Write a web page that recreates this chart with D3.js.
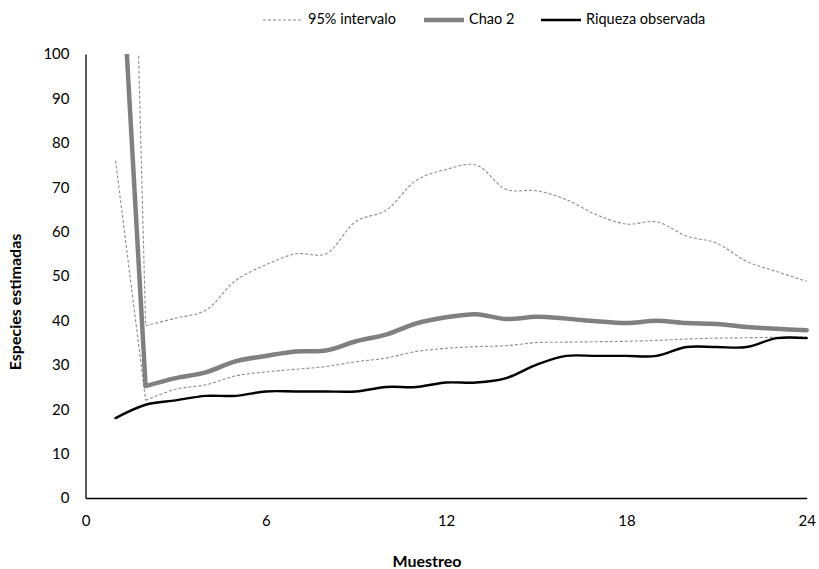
<!DOCTYPE html>
<html>
<head>
<meta charset="utf-8">
<script src="https://cdn.jsdelivr.net/npm/d3@7"></script>
<style>
  html, body { margin: 0; padding: 0; background: #fff; }
  svg { display: block; }
  text { font-family: Lato, "Open Sans", sans-serif; fill: #000; }
</style>
</head>
<body>
<svg id="chart" width="819" height="569"></svg>
<script>
// Sampling units (muestreos)
const samples = d3.range(1, 25);
// Observed species richness
const observed = [18, 21, 22, 23, 23, 24, 24, 24, 24, 25, 25, 26, 26, 27, 30, 32, 32, 32, 32, 34, 34, 34, 36, 36];
// Chao 2 estimator
const chao2 = [145, 25.2, 27, 28.3, 30.8, 32, 33, 33.2, 35.3, 36.8, 39.3, 40.7, 41.4, 40.3, 40.8, 40.4, 39.8, 39.4, 39.9, 39.4, 39.2, 38.5, 38.1, 37.8];
// 95% confidence interval bounds
const ciUpper = [300, 38.8, 40.5, 42.3, 49, 52.5, 55, 55, 62.3, 64.8, 71.5, 74, 75, 69.5, 69.2, 67.2, 63.8, 61.7, 62.2, 59, 57.4, 53.3, 51, 48.8];
const ciLower = [76, 22, 24.5, 25.5, 27.5, 28.4, 29, 29.6, 30.7, 31.5, 33, 33.7, 34.1, 34.3, 35, 35.1, 35.2, 35.3, 35.5, 35.8, 36, 36.1, 36.2, 36.3];
// Axis ticks
const xTicks = [0, 6, 12, 18, 24];
const yTicks = d3.range(0, 101, 10);

const svg = d3.select("#chart");
const plot = { left: 85.5, top: 54, right: 806.7, bottom: 498 };

const x = d3.scaleLinear().domain([0, 24]).range([plot.left, plot.right]);
const y = d3.scaleLinear().domain([0, 100]).range([plot.bottom, plot.top]);

svg.append("defs").append("clipPath").attr("id", "plot-clip")
  .append("rect")
  .attr("x", plot.left).attr("y", plot.top)
  .attr("width", plot.right - plot.left + 4)
  .attr("height", plot.bottom - plot.top);

// The steep first step (sample 1 to 2) of the estimates is drawn straight; the rest is smoothed.
const pts = values => values.map((v, i) => [x(samples[i]), y(v)]);
const straight = d3.line().curve(d3.curveLinear);
const smooth = d3.line().curve(d3.curveCatmullRom.alpha(0.5));
const steepPath = values => {
  const p = pts(values);
  return straight(p.slice(0, 2)) + smooth(p.slice(1));
};

const lines = svg.append("g").attr("clip-path", "url(#plot-clip)");

const ciStyle = { stroke: "#8c8c8c", width: 1.1, dash: "3,2" };
[ciUpper, ciLower].forEach(v => {
  lines.append("path")
    .attr("d", steepPath(v))
    .attr("fill", "none")
    .attr("stroke", ciStyle.stroke)
    .attr("stroke-width", ciStyle.width)
    .attr("stroke-dasharray", ciStyle.dash);
});

lines.append("path")
  .attr("d", steepPath(chao2))
  .attr("fill", "none")
  .attr("stroke", "#808080")
  .attr("stroke-width", 4.5)
  .attr("stroke-linecap", "round")
  .attr("stroke-linejoin", "round");

lines.append("path")
  .attr("d", smooth(pts(observed)))
  .attr("fill", "none")
  .attr("stroke", "#000")
  .attr("stroke-width", 2.4)
  .attr("stroke-linecap", "round")
  .attr("stroke-linejoin", "round");

// Axes: plain lines with labels, no tick marks
const yAxis = svg.append("g")
  .attr("transform", `translate(${plot.left},0)`)
  .call(d3.axisLeft(y).tickValues(yTicks).tickSize(0).tickPadding(16).tickFormat(d3.format("d")));
const xAxis = svg.append("g")
  .attr("transform", `translate(0,${plot.bottom})`)
  .call(d3.axisBottom(x).tickValues(xTicks).tickSize(0).tickPadding(17).tickFormat(d3.format("d")));

[yAxis, xAxis].forEach(g => {
  g.select(".domain").attr("stroke", "#000").attr("stroke-width", 1.3);
  g.selectAll("text").style("font-family", "Lato, sans-serif").style("font-size", "15px").attr("fill", "#000");
});

// Axis titles
svg.append("text")
  .attr("x", 427)
  .attr("y", 563)
  .attr("text-anchor", "middle")
  .attr("dominant-baseline", "middle")
  .style("font-size", "16px")
  .style("font-weight", "bold")
  .text("Muestreo");

svg.append("text")
  .attr("transform", "translate(17,302) rotate(-90)")
  .attr("text-anchor", "middle")
  .attr("dominant-baseline", "middle")
  .style("font-size", "16px")
  .style("font-weight", "bold")
  .text("Especies estimadas");

// Legend
const legendItems = [
  { label: "95% intervalo", x0: 263, stroke: "#8c8c8c", width: 1.1, dash: "3,2" },
  { label: "Chao 2", x0: 424, stroke: "#808080", width: 4.5, dash: null },
  { label: "Riqueza observada", x0: 541, stroke: "#000", width: 2.4, dash: null }
];
const legend = svg.append("g");
legendItems.forEach(item => {
  legend.append("line")
    .attr("x1", item.x0).attr("x2", item.x0 + 40)
    .attr("y1", 20).attr("y2", 20)
    .attr("stroke", item.stroke)
    .attr("stroke-width", item.width)
    .attr("stroke-dasharray", item.dash);
  legend.append("text")
    .attr("x", item.x0 + 45)
    .attr("y", 20)
    .attr("dominant-baseline", "middle")
    .style("font-size", "14.5px")
    .text(item.label);
});
</script>
</body>
</html>
